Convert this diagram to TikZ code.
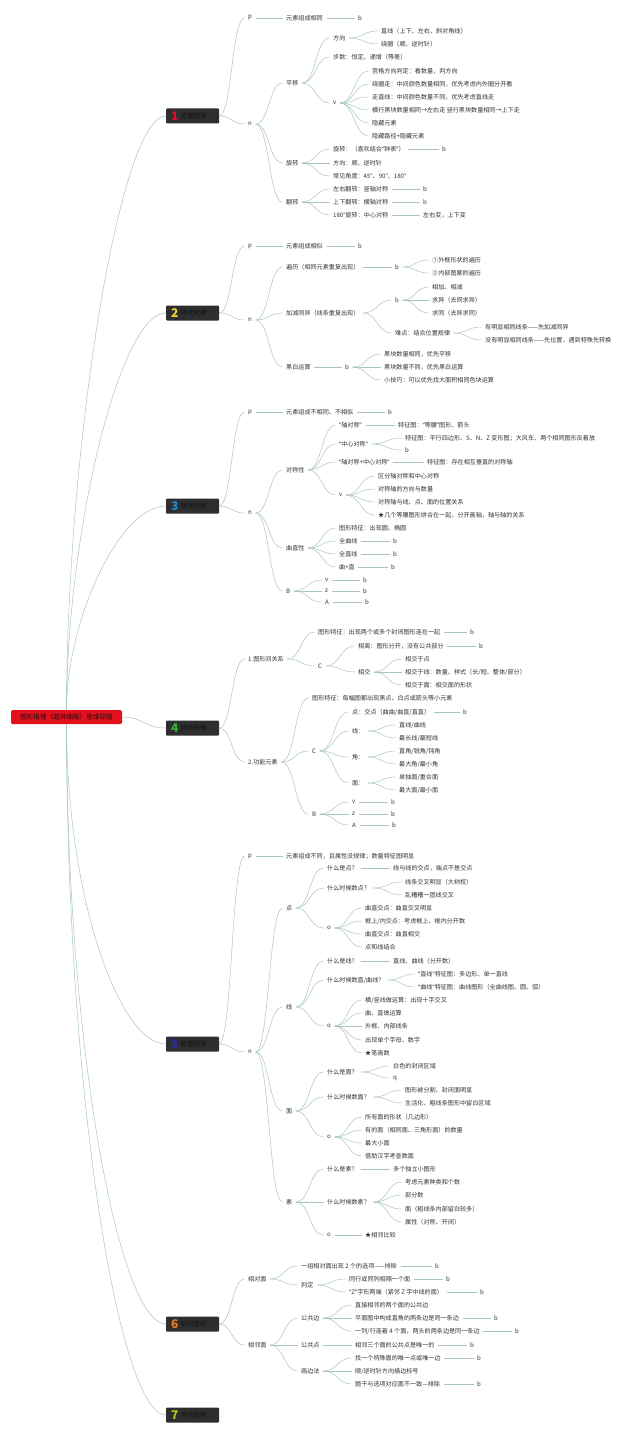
\documentclass[tikz,border=0pt]{standalone}
\usepackage{fontspec}
\setmainfont{Noto Sans CJK SC}
\newfontfamily\latf{Noto Sans}
\usetikzlibrary{calc}
\definecolor{ln}{HTML}{A9C5C1}
\definecolor{tx}{HTML}{333333}
\definecolor{boxc}{HTML}{2E2E2E}
\definecolor{boxt}{HTML}{141414}
\definecolor{rootc}{HTML}{E3101E}
\definecolor{cA}{HTML}{E0102A}
\definecolor{cB}{HTML}{F2D33A}
\definecolor{cC}{HTML}{1E88D0}
\definecolor{cD}{HTML}{2DB52D}
\definecolor{cE}{HTML}{2A2AB0}
\definecolor{cF}{HTML}{F07818}
\definecolor{cG}{HTML}{A8C81E}
\newcommand\qo{{\latf “}}
\newcommand\qc{{\latf ”}}
\newcommand\mn[4]{\node[t] (#1) at (#2,#3) {#4};}
\newcommand\fan[2]{\foreach \cc in {#2}{\draw[conn] (#1.east) to[cv] (\cc.west);}}
\newcommand\brbox[5]{%
  \node[bx] (#1) at (192.5,#2) {};
  \node[anchor=west,inner sep=0pt] (#1num) at ([xshift=5pt]#1.west) {\fontsize{12}{12}\selectfont\bfseries\color{#3}#4};
  \node[anchor=west,inner sep=0pt] (#1lab) at ([xshift=2pt]#1num.east) {\fontsize{6.5}{7}\selectfont\color{boxt}#5};}
\begin{document}
\begin{tikzpicture}[x=1pt,y=-1pt,
  t/.style={anchor=west, xshift=-3.5pt, inner xsep=3.5pt, inner ysep=1pt, font=\fontsize{6.1}{7}\selectfont, text=tx},
  conn/.style={draw=ln, line width=0.5pt},
  cv/.style={to path={let \p1=(\tikztostart), \p2=(\tikztotarget) in .. controls ({0.5*\x1+0.5*\x2},\y1) and ({0.5*\x1+0.5*\x2},\y2) .. (\tikztotarget)}},
  bx/.style={fill=boxc, minimum width=53pt, minimum height=15pt, inner sep=0pt, rounded corners=1pt}]
\fill[white] (0,0) rectangle (640,1434);
\useasboundingbox (0,0) rectangle (640,1434);

% root
\node[fill=rootc, rounded corners=1.5pt, minimum width=111pt, minimum height=14pt, inner sep=0pt, font=\fontsize{6.6}{7}\selectfont, text=boxt] (root) at (66.5,717) {图形推理（超详细版）思维导图};

% branch boxes
\brbox{b1}{116}{cA}{1}{位置规律}
\brbox{b2}{313}{cB}{2}{样式规律}
\brbox{b3}{506}{cC}{3}{属性规律}
\brbox{b4}{728}{cD}{4}{特殊规律}
\brbox{b5}{1044}{cE}{5}{数量规律}
\brbox{b6}{1324}{cF}{6}{空间重构}
\brbox{b7}{1415}{cG}{7}{其他题型}

\draw[conn] (root.north) .. controls (67,443) and (120,116) .. (b1.west);
\draw[conn] (root.north) .. controls (67,531) and (120,313) .. (b2.west);
\draw[conn] (root.north) .. controls (67,618) and (120,506) .. (b3.west);
\draw[conn] (root.east) to[cv] (b4.west);
\draw[conn] (root.south) .. controls (67,900) and (120,1044) .. (b5.west);
\draw[conn] (root.south) .. controls (67,1054) and (120,1324) .. (b6.west);
\draw[conn] (root.south) .. controls (67,1104) and (120,1415) .. (b7.west);

% ---------- branch 1
\mn{a1p}{248}{18}{p}
\mn{a1p1}{286}{18}{元素组成相同}
\mn{a1p2}{358}{18}{b}
\mn{a1n}{248}{124}{n}
\mn{a1a}{286}{83}{平移}
\mn{a1a1}{333}{38}{方向}
\mn{a1a11}{381}{31}{直线（上下、左右、斜对角线）}
\mn{a1a12}{381}{44}{绕圈（顺、逆时针）}
\mn{a1a2}{333}{57}{步数：恒定、递增（等差）}
\mn{a1a3}{333}{103}{v}
\mn{a1a31}{372}{71}{宫格方向判定：看数量，判方向}
\mn{a1a32}{372}{84}{绕圈走：中间颜色数量相同，优先考虑内外圈分开看}
\mn{a1a33}{372}{97}{走直线：中间颜色数量不同，优先考虑直线走}
\mn{a1a34}{372}{110}{横行黑块数量相同→左右走 竖行黑块数量相同→上下走}
\mn{a1a35}{372}{123}{隐藏元素}
\mn{a1a36}{372}{136}{隐藏路径+隐藏元素}
\mn{a1b}{286}{163}{旋转}
\mn{a1b1}{333}{149}{旋转：（喜欢结合\qo 钟表\qc）}
\mn{a1b1b}{442}{149}{b}
\mn{a1b2}{333}{163}{方向：顺、逆时针}
\mn{a1b3}{333}{176}{常见角度：45°、90°、180°}
\mn{a1c}{286}{202}{翻转}
\mn{a1c1}{333}{189}{左右翻转：竖轴对称}
\mn{a1c1b}{423}{189}{b}
\mn{a1c2}{333}{202}{上下翻转：横轴对称}
\mn{a1c2b}{423}{202}{b}
\mn{a1c3}{333}{215}{180°旋转：中心对称}
\mn{a1c3b}{423}{215}{左右变，上下变}
\fan{b1}{a1p,a1n}
\fan{a1p}{a1p1}
\fan{a1p1}{a1p2}
\fan{a1n}{a1a,a1b,a1c}
\fan{a1a}{a1a1,a1a2,a1a3}
\fan{a1a1}{a1a11,a1a12}
\fan{a1a3}{a1a31,a1a32,a1a33,a1a34,a1a35,a1a36}
\fan{a1b}{a1b1,a1b2,a1b3}
\fan{a1b1}{a1b1b}
\fan{a1c}{a1c1,a1c2,a1c3}
\fan{a1c1}{a1c1b}
\fan{a1c2}{a1c2b}
\fan{a1c3}{a1c3b}

% ---------- branch 2
\mn{a2p}{248}{246}{p}
\mn{a2p1}{286}{246}{元素组成相似}
\mn{a2p2}{358}{246}{b}
\mn{a2n}{248}{320}{n}
\mn{a2a}{286}{267}{遍历（相同元素重复出现）}
\mn{a2ab}{395}{267}{b}
\mn{a2ab1}{432}{260}{①外框形状的遍历}
\mn{a2ab2}{432}{273}{②内部图案的遍历}
\mn{a2b}{286}{313}{加减同异（线条重复出现）}
\mn{a2bb}{395}{300}{b}
\mn{a2bb1}{432}{287}{相加、相减}
\mn{a2bb2}{432}{300}{求异（去同求异）}
\mn{a2bb3}{432}{313}{求同（去异求同）}
\mn{a2bc}{395}{333}{难点：结合位置规律}
\mn{a2bc1}{485}{327}{有明显相同线条——先加减同异}
\mn{a2bc2}{485}{340}{没有明显相同线条——先位置，遇到特殊先转换}
\mn{a2c}{286}{367}{黑白运算}
\mn{a2cb}{345}{367}{b}
\mn{a2cb1}{384}{354}{黑块数量相同，优先平移}
\mn{a2cb2}{384}{367}{黑块数量不同，优先黑白运算}
\mn{a2cb3}{384}{380}{小技巧：可以优先找大面积相同色块运算}
\fan{b2}{a2p,a2n}
\fan{a2p}{a2p1}
\fan{a2p1}{a2p2}
\fan{a2n}{a2a,a2b,a2c}
\fan{a2a}{a2ab}
\fan{a2ab}{a2ab1,a2ab2}
\fan{a2b}{a2bb,a2bc}
\fan{a2bb}{a2bb1,a2bb2,a2bb3}
\fan{a2bc}{a2bc1,a2bc2}
\fan{a2c}{a2cb}
\fan{a2cb}{a2cb1,a2cb2,a2cb3}

% ---------- branch 3
\mn{a3p}{248}{412}{p}
\mn{a3p1}{286}{412}{元素组成不相同、不相似}
\mn{a3p2}{388}{412}{b}
\mn{a3n}{248}{513}{n}
\mn{a3a}{286}{470}{对称性}
\mn{a3a1}{339}{425}{\qo 轴对称\qc}
\mn{a3a1b}{398}{425}{特征图：\qo 等腰\qc 图形、箭头}
\mn{a3a2}{339}{444}{\qo 中心对称\qc}
\mn{a3a21}{405}{438}{特征图：平行四边形、S、N、Z 变形图；大风车、两个相同图形反着放}
\mn{a3a22}{405}{450}{b}
\mn{a3a3}{339}{462}{\qo 轴对称+中心对称\qc}
\mn{a3a3b}{427}{462}{特征图：存在相互垂直的对称轴}
\mn{a3a4}{339}{495}{v}
\mn{a3a41}{378}{476}{区分轴对称和中心对称}
\mn{a3a42}{378}{489}{对称轴的方向与数量}
\mn{a3a43}{378}{502}{对称轴与线、点、面的位置关系}
\mn{a3a44}{378}{515}{★几个等腰图形拼合在一起，分开画轴，轴与轴的关系}
\mn{a3b}{286}{548}{曲直性}
\mn{a3b1}{339}{528}{图形特征：出现圆、椭圆}
\mn{a3b2}{339}{541}{全曲线}
\mn{a3b2b}{393}{541}{b}
\mn{a3b3}{339}{554}{全直线}
\mn{a3b3b}{393}{554}{b}
\mn{a3b4}{339}{567}{曲+直}
\mn{a3b4b}{391}{567}{b}
\mn{a3c}{286}{591}{B}
\mn{a3c1}{325}{580}{v}
\mn{a3c1b}{363}{580}{b}
\mn{a3c2}{325}{591}{z}
\mn{a3c2b}{363}{591}{b}
\mn{a3c3}{325}{602}{A}
\mn{a3c3b}{365}{602}{b}
\fan{b3}{a3p,a3n}
\fan{a3p}{a3p1}
\fan{a3p1}{a3p2}
\fan{a3n}{a3a,a3b,a3c}
\fan{a3a}{a3a1,a3a2,a3a3,a3a4}
\fan{a3a1}{a3a1b}
\fan{a3a2}{a3a21,a3a22}
\fan{a3a3}{a3a3b}
\fan{a3a4}{a3a41,a3a42,a3a43,a3a44}
\fan{a3b}{a3b1,a3b2,a3b3,a3b4}
\fan{a3b2}{a3b2b}
\fan{a3b3}{a3b3b}
\fan{a3b4}{a3b4b}
\fan{a3c}{a3c1,a3c2,a3c3}
\fan{a3c1}{a3c1b}
\fan{a3c2}{a3c2b}
\fan{a3c3}{a3c3b}

% ---------- branch 4
\mn{a4a}{248}{659}{1.图形间关系}
\mn{a4a1}{318}{632}{图形特征：出现两个或多个封闭图形连在一起}
\mn{a4a1b}{470}{632}{b}
\mn{a4a2}{318}{666}{C}
\mn{a4a21}{358}{646}{相离：图形分开，没有公共部分}
\mn{a4a21b}{479}{646}{b}
\mn{a4a22}{358}{672}{相交}
\mn{a4a221}{405}{659}{相交于点}
\mn{a4a222}{405}{672}{相交于线：数量、样式（长/短、整体/部分）}
\mn{a4a223}{405}{685}{相交于面：相交面的形状}
\mn{a4b}{248}{762}{2.功能元素}
\mn{a4b1}{312}{698}{图形特征：每幅图都出现黑点、白点或箭头等小元素}
\mn{a4b2}{312}{751}{C}
\mn{a4b21}{352}{712}{点：交点（曲曲/曲直/直直）}
\mn{a4b21b}{463}{712}{b}
\mn{a4b22}{352}{731}{线：}
\mn{a4b221}{399}{725}{直线/曲线}
\mn{a4b222}{399}{738}{最长线/最短线}
\mn{a4b23}{352}{757}{角：}
\mn{a4b231}{399}{751}{直角/锐角/钝角}
\mn{a4b232}{399}{764}{最大角/最小角}
\mn{a4b24}{352}{783}{面：}
\mn{a4b241}{399}{777}{单独面/重合面}
\mn{a4b242}{399}{790}{最大面/最小面}
\mn{a4b3}{312}{814}{B}
\mn{a4b31}{352}{802}{v}
\mn{a4b31b}{391}{802}{b}
\mn{a4b32}{352}{814}{z}
\mn{a4b32b}{391}{814}{b}
\mn{a4b33}{352}{825}{A}
\mn{a4b33b}{392}{825}{b}
\fan{b4}{a4a,a4b}
\fan{a4a}{a4a1,a4a2}
\fan{a4a1}{a4a1b}
\fan{a4a2}{a4a21,a4a22}
\fan{a4a21}{a4a21b}
\fan{a4a22}{a4a221,a4a222,a4a223}
\fan{a4b}{a4b1,a4b2,a4b3}
\fan{a4b2}{a4b21,a4b22,a4b23,a4b24}
\fan{a4b21}{a4b21b}
\fan{a4b22}{a4b221,a4b222}
\fan{a4b23}{a4b231,a4b232}
\fan{a4b24}{a4b241,a4b242}
\fan{a4b3}{a4b31,a4b32,a4b33}
\fan{a4b31}{a4b31b}
\fan{a4b32}{a4b32b}
\fan{a4b33}{a4b33b}

% ---------- branch 5
\mn{a5p}{248}{856}{p}
\mn{a5p1}{286}{856}{元素组成不同，且属性没规律；数量特征图明显}
\mn{a5n}{248}{1052}{n}
\mn{a5a}{286}{908}{点}
\mn{a5a1}{327}{868}{什么是点？}
\mn{a5a1b}{393}{868}{线与线的交点，端点不是交点}
\mn{a5a2}{327}{888}{什么时候数点？}
\mn{a5a21}{405}{882}{线条交叉明显（大树杈）}
\mn{a5a22}{405}{895}{乱糟糟一团线交叉}
\mn{a5a3}{327}{928}{o}
\mn{a5a31}{365}{908}{曲直交点：曲直交叉明显}
\mn{a5a32}{365}{921}{框上/内交点：考虑框上、框内分开数}
\mn{a5a33}{365}{934}{曲直交点：曲直相交}
\mn{a5a34}{365}{947}{点和线结合}
\mn{a5b}{286}{1007}{线}
\mn{a5b1}{327}{961}{什么是线？}
\mn{a5b1b}{393}{961}{直线、曲线（分开数）}
\mn{a5b2}{327}{980}{什么时候数直/曲线？}
\mn{a5b21}{418}{974}{\qo 直线\qc 特征图：多边形、单一直线}
\mn{a5b22}{418}{987}{\qo 曲线\qc 特征图：曲线图形（全曲线图、圆、弧）}
\mn{a5b3}{327}{1026}{o}
\mn{a5b31}{365}{1000}{横/竖线做运算：出现十字交叉}
\mn{a5b32}{365}{1013}{曲、直做运算}
\mn{a5b33}{365}{1026}{外框、内部线条}
\mn{a5b34}{365}{1040}{出现单个字母、数字}
\mn{a5b35}{365}{1053}{★笔画数}
\mn{a5c}{286}{1111}{面}
\mn{a5c1}{327}{1072}{什么是面？}
\mn{a5c11}{393}{1066}{白色的封闭区域}
\mn{a5c12}{393}{1078}{q}
\mn{a5c2}{327}{1097}{什么时候数面？}
\mn{a5c21}{405}{1090}{图形被分割、封闭面明显}
\mn{a5c22}{405}{1103}{生活化、粗线条图形中留白区域}
\mn{a5c3}{327}{1137}{o}
\mn{a5c31}{365}{1117}{所有面的形状（几边形）}
\mn{a5c32}{365}{1130}{有的面（相同面、三角形面）的数量}
\mn{a5c33}{365}{1143}{最大小面}
\mn{a5c34}{365}{1156}{借助汉字考查数面}
\mn{a5d}{286}{1202}{素}
\mn{a5d1}{327}{1169}{什么是素？}
\mn{a5d1b}{393}{1169}{多个独立小图形}
\mn{a5d2}{327}{1202}{什么时候数素？}
\mn{a5d21}{405}{1182}{考虑元素种类和个数}
\mn{a5d22}{405}{1195}{部分数}
\mn{a5d23}{405}{1209}{面（粗线条内部留白较多）}
\mn{a5d24}{405}{1222}{属性（对称、开闭）}
\mn{a5d3}{327}{1235}{o}
\mn{a5d3b}{365}{1235}{★相邻比较}
\fan{b5}{a5p,a5n}
\fan{a5p}{a5p1}
\fan{a5n}{a5a,a5b,a5c,a5d}
\fan{a5a}{a5a1,a5a2,a5a3}
\fan{a5a1}{a5a1b}
\fan{a5a2}{a5a21,a5a22}
\fan{a5a3}{a5a31,a5a32,a5a33,a5a34}
\fan{a5b}{a5b1,a5b2,a5b3}
\fan{a5b1}{a5b1b}
\fan{a5b2}{a5b21,a5b22}
\fan{a5b3}{a5b31,a5b32,a5b33,a5b34,a5b35}
\fan{a5c}{a5c1,a5c2,a5c3}
\fan{a5c1}{a5c11,a5c12}
\fan{a5c2}{a5c21,a5c22}
\fan{a5c3}{a5c31,a5c32,a5c33,a5c34}
\fan{a5d}{a5d1,a5d2,a5d3}
\fan{a5d1}{a5d1b}
\fan{a5d2}{a5d21,a5d22,a5d23,a5d24}
\fan{a5d3}{a5d3b}

% ---------- branch 6
\mn{a6a}{248}{1279}{相对面}
\mn{a6a1}{301}{1266}{一组相对面出现 2 个的选项——排除}
\mn{a6a1b}{435}{1266}{b}
\mn{a6a2}{301}{1285}{判定}
\mn{a6a21}{349}{1279}{同行或同列相隔一个面}
\mn{a6a21b}{446}{1279}{b}
\mn{a6a22}{349}{1292}{\qo Z\qc 字形两端（紧邻 Z 字中线的面）}
\mn{a6a22b}{480}{1292}{b}
\mn{a6b}{248}{1345}{相邻面}
\mn{a6b1}{301}{1318}{公共边}
\mn{a6b11}{355}{1305}{直接相邻的两个面的公共边}
\mn{a6b12}{355}{1318}{平面图中构成直角的两条边是同一条边}
\mn{a6b12b}{494}{1318}{b}
\mn{a6b13}{355}{1331}{一列/行连着 4 个面，两头的两条边是同一条边}
\mn{a6b13b}{515}{1331}{b}
\mn{a6b2}{301}{1345}{公共点}
\mn{a6b2b}{355}{1345}{相邻三个面的公共点是唯一的}
\mn{a6b2bb}{470}{1345}{b}
\mn{a6b3}{301}{1371}{画边法}
\mn{a6b31}{355}{1358}{找一个特殊面的唯一点或唯一边}
\mn{a6b31b}{477}{1358}{b}
\mn{a6b32}{355}{1371}{顺/逆时针方向描边标号}
\mn{a6b33}{355}{1384}{题干与选项对应面不一致—排除}
\mn{a6b33b}{477}{1384}{b}
\fan{b6}{a6a,a6b}
\fan{a6a}{a6a1,a6a2}
\fan{a6a1}{a6a1b}
\fan{a6a2}{a6a21,a6a22}
\fan{a6a21}{a6a21b}
\fan{a6a22}{a6a22b}
\fan{a6b}{a6b1,a6b2,a6b3}
\fan{a6b1}{a6b11,a6b12,a6b13}
\fan{a6b12}{a6b12b}
\fan{a6b13}{a6b13b}
\fan{a6b2}{a6b2b}
\fan{a6b2b}{a6b2bb}
\fan{a6b3}{a6b31,a6b32,a6b33}
\fan{a6b31}{a6b31b}
\fan{a6b33}{a6b33b}
\end{tikzpicture}
\end{document}
